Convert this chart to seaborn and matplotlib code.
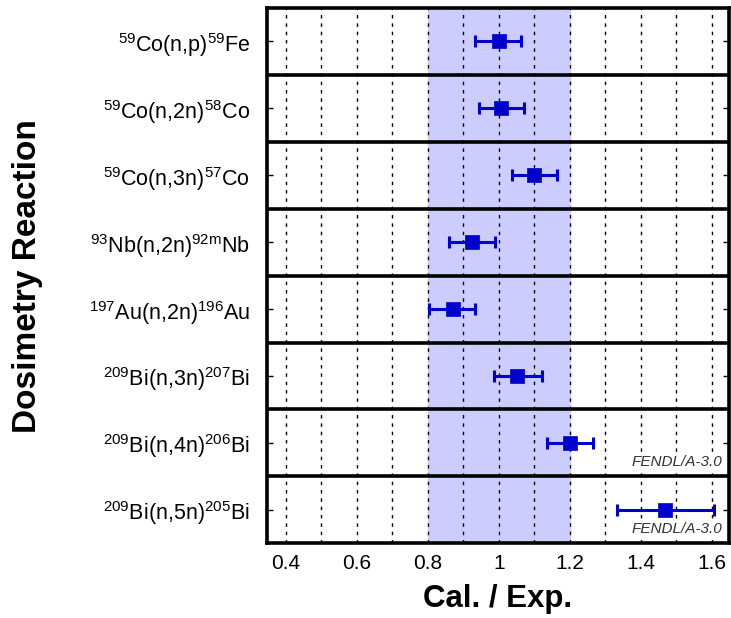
import matplotlib
matplotlib.use("Agg")
import matplotlib.pyplot as plt
import pandas as pd
import seaborn as sns

# reactions, top to bottom
reactions = [
    r"$^{59}$Co(n,p)$^{59}$Fe",
    r"$^{59}$Co(n,2n)$^{58}$Co",
    r"$^{59}$Co(n,3n)$^{57}$Co",
    r"$^{93}$Nb(n,2n)$^{92m}$Nb",
    r"$^{197}$Au(n,2n)$^{196}$Au",
    r"$^{209}$Bi(n,3n)$^{207}$Bi",
    r"$^{209}$Bi(n,4n)$^{206}$Bi",
    r"$^{209}$Bi(n,5n)$^{205}$Bi",
]
ce_ratio = [1.00, 1.006, 1.10, 0.924, 0.870, 1.052, 1.20, 1.468]
err_lo = [0.067, 0.062, 0.063, 0.065, 0.067, 0.066, 0.065, 0.136]
err_hi = [0.063, 0.064, 0.063, 0.065, 0.062, 0.069, 0.065, 0.138]
note = ["", "", "", "", "", "", "FENDL/A-3.0", "FENDL/A-3.0"]

df = pd.DataFrame({"reaction": reactions, "ce": ce_ratio,
                   "lo": err_lo, "hi": err_hi, "note": note})
df["pos"] = range(len(df))

sns.set_style("white")
plt.rcParams["font.family"] = ["Liberation Sans", "DejaVu Sans"]
plt.rcParams["mathtext.default"] = "regular"
plt.rcParams["text.color"] = "black"
plt.rcParams["axes.labelcolor"] = "black"
plt.rcParams["xtick.color"] = "black"
plt.rcParams["ytick.color"] = "black"

fig = plt.figure(figsize=(7.31, 6.18), dpi=100)
ax = fig.add_axes([0.365, 0.121, 0.632, 0.866])

blue = "#0000CC"

# shaded +-20% band
ax.axvspan(0.8, 1.2, color="#CCCCFF", zorder=0)

# dashed grid
for xv in [0.4 + 0.1 * i for i in range(13)]:
    ax.axvline(xv, color="black", ls=(0, (2.5, 3.5)), lw=1.0, zorder=1)

# row separators
for k in range(1, len(df)):
    ax.axhline(k - 0.5, color="black", lw=2.6, zorder=2)

ax.errorbar(df["ce"], df["pos"], xerr=[df["lo"], df["hi"]], fmt="none",
            ecolor=blue, elinewidth=2.2, capsize=4.5, capthick=2.2, zorder=3)
sns.scatterplot(data=df, x="ce", y="pos", marker="s", s=110, color=blue,
                edgecolor=blue, linewidth=0.5, ax=ax, zorder=4, legend=False)

for _, r in df.iterrows():
    if r["note"]:
        ax.text(1.630, r["pos"] + 0.28, r["note"], ha="right", va="center",
                fontsize=11, style="italic", color="#333333", zorder=5,
                bbox=dict(facecolor="white", edgecolor="none", pad=0.5))

ax.set_xlim(0.346, 1.648)
ax.set_ylim(len(df) - 0.5, -0.5)
ax.set_xticks([0.4, 0.6, 0.8, 1.0, 1.2, 1.4, 1.6])
ax.set_xticklabels(["0.4", "0.6", "0.8", "1", "1.2", "1.4", "1.6"],
                   fontsize=15)
ax.set_yticks(df["pos"])
ax.set_yticklabels(df["reaction"], fontsize=15.5)
ax.tick_params(axis="y", direction="in", length=4, width=1, right=True,
               left=True, pad=12)
ax.tick_params(axis="x", length=0, pad=8)
ax.set_ylabel("")

for s in ax.spines.values():
    s.set_linewidth(2.6)
    s.set_color("black")

ax.set_xlabel("Cal. / Exp.", fontsize=22.5, fontweight="bold", labelpad=8)
fig.text(0.038, 0.553, "Dosimetry Reaction", rotation=90, ha="center",
         va="center", fontsize=24, fontweight="bold")

fig.savefig("out.png", dpi=100)
